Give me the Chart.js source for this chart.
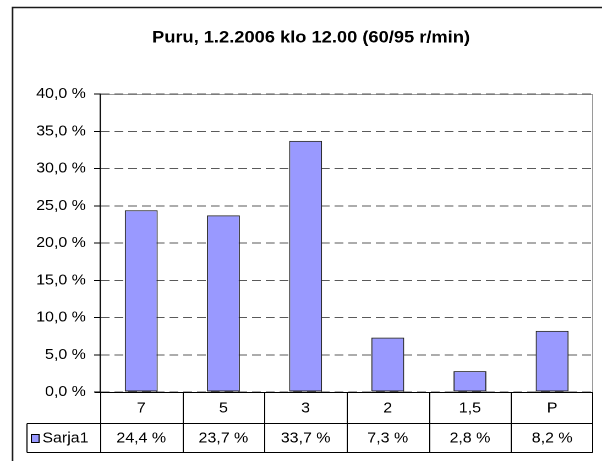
<!DOCTYPE html>
<html>
<head>
<meta charset="utf-8">
<script src="https://cdn.jsdelivr.net/npm/chart.js@4/dist/chart.umd.min.js"></script>
<style>
  html, body { margin: 0; padding: 0; background: #fff; overflow: hidden; }
  /* the chart is laid out on a narrower canvas and widened horizontally */
  #stage { width: 547px; height: 461px; transform: scaleX(1.10055); transform-origin: 0 0; }
</style>
</head>
<body>
<div id="stage"><canvas id="chart" width="547" height="461"></canvas></div>
<script>
// ---- data ----
const chartTitle = 'Puru, 1.2.2006 klo 12.00 (60/95 r/min)';
const seriesName = 'Sarja1';
const categories = ['7', '5', '3', '2', '1,5', 'P'];
const values = [24.4, 23.7, 33.7, 7.3, 2.8, 8.2];
const yMin = 0;
const yMax = 40;
const yStep = 5;

const FONT = "'Liberation Sans', Arial, Helvetica, sans-serif";
const fmtPct = v => v.toFixed(1).replace('.', ',') + ' %';

// ---- layout (canvas px) ----
const CANVAS_W = 547;
const CANVAS_H = 461;
const AXIS_W = 91;          // width reserved for the value axis
const PLOT_RIGHT = 539;
const PLOT_TOP = 94;
const PLOT_BOTTOM = 392;
const ROW1_BOTTOM = 423;    // category row of the data table
const ROW2_BOTTOM = 452;    // value row of the data table
const TABLE_LEFT = 24.5;    // value row starts under the axis labels
const FRAME_X = 11.4;
const FRAME_Y = 7.5;
const TITLE_X = 282.6;
const TITLE_BASE = 42.5;
const TEXT_SIZE = 14.5;

const frameAndTable = {
  id: 'frameAndTable',
  beforeDraw(chart) {
    const { ctx, chartArea: a } = chart;
    ctx.save();
    ctx.fillStyle = '#fff';
    ctx.fillRect(0, 0, chart.width, chart.height);

    // outer chart frame
    ctx.strokeStyle = '#1a1a1a';
    ctx.lineWidth = 1.5;
    ctx.beginPath();
    ctx.moveTo(FRAME_X, chart.height + 2);
    ctx.lineTo(FRAME_X, FRAME_Y);
    ctx.lineTo(chart.width + 2, FRAME_Y);
    ctx.stroke();

    // plot area outline
    ctx.strokeStyle = '#9a9a9a';
    ctx.lineWidth = 1;
    ctx.strokeRect(Math.round(a.left) + 0.5, Math.round(a.top) + 0.5,
                   Math.round(a.right - a.left) - 1, Math.round(a.bottom - a.top));

    // title
    ctx.fillStyle = '#000';
    ctx.font = 'bold 17px ' + FONT;
    ctx.textAlign = 'center';
    ctx.textBaseline = 'alphabetic';
    ctx.translate(TITLE_X, TITLE_BASE);
    ctx.scale(0.977, 1);
    ctx.fillText(chartTitle, 0, 0);
    ctx.restore();
  },
  afterDraw(chart) {
    const { ctx, chartArea: a } = chart;
    const x = chart.scales.x;
    const n = categories.length;
    const top = Math.round(a.bottom) + 0.5;
    const r1 = ROW1_BOTTOM + 0.5;
    const r2 = ROW2_BOTTOM + 0.5;
    const left = Math.round(a.left) + 0.5;
    const right = Math.round(a.right) - 0.5;

    ctx.save();
    ctx.strokeStyle = '#000';
    ctx.lineWidth = 1;
    ctx.beginPath();
    // horizontal rules
    ctx.moveTo(left - 5.5, top); ctx.lineTo(right, top);
    ctx.moveTo(TABLE_LEFT, r1); ctx.lineTo(right, r1);
    ctx.moveTo(TABLE_LEFT, r2); ctx.lineTo(right, r2);
    // left edge of value row
    ctx.moveTo(TABLE_LEFT, r1); ctx.lineTo(TABLE_LEFT, r2);
    // column boundaries
    for (let i = 0; i <= n; i++) {
      let bx;
      if (i === 0) bx = left;
      else if (i === n) bx = right;
      else bx = Math.round((x.getPixelForValue(i - 1) + x.getPixelForValue(i)) / 2) + 0.5;
      ctx.moveTo(bx, top); ctx.lineTo(bx, r2);
    }
    ctx.stroke();

    // cell text
    ctx.fillStyle = '#000';
    ctx.font = TEXT_SIZE + 'px ' + FONT;
    ctx.textAlign = 'center';
    ctx.textBaseline = 'middle';
    for (let i = 0; i < n; i++) {
      const cx = x.getPixelForValue(i);
      ctx.fillText(categories[i], cx, (top + r1) / 2 + 0.5);
      ctx.fillText(fmtPct(values[i]), cx, (r1 + r2) / 2 + 0.5);
    }

    // series key + name
    const ky = (r1 + r2) / 2;
    ctx.fillStyle = '#9999ff';
    ctx.fillRect(28.5, ky - 3.5, 7, 8);
    ctx.strokeStyle = '#000';
    ctx.strokeRect(28.5, ky - 3.5, 7, 8);
    ctx.fillStyle = '#000';
    ctx.textAlign = 'left';
    ctx.fillText(seriesName, 38.5, ky + 0.5);
    ctx.restore();
  }
};

new Chart(document.getElementById('chart'), {
  type: 'bar',
  data: {
    labels: categories,
    datasets: [{
      label: seriesName,
      data: values,
      backgroundColor: '#9999ff',
      borderColor: '#222',
      borderWidth: 1,
      borderSkipped: false,
      barPercentage: 0.4,
      categoryPercentage: 1
    }]
  },
  options: {
    responsive: false,
    animation: false,
    devicePixelRatio: 2,
    layout: { padding: { left: 0, right: CANVAS_W - PLOT_RIGHT, top: PLOT_TOP, bottom: CANVAS_H - PLOT_BOTTOM } },
    plugins: { legend: { display: false }, tooltip: { enabled: false }, title: { display: false } },
    scales: {
      x: { display: false, offset: true },
      y: {
        min: yMin,
        max: yMax,
        afterFit(scale) { scale.width = AXIS_W; },
        ticks: {
          stepSize: yStep,
          padding: 7.5,
          color: '#000',
          font: { family: FONT, size: TEXT_SIZE },
          callback: v => fmtPct(v)
        },
        grid: {
          color: '#5a5a5a',
          lineWidth: 1,
          tickLength: 5.5,
          tickColor: '#000',
          tickWidth: 1
        },
        border: { display: true, color: '#000', width: 1, dash: [8, 4.5] }
      }
    }
  },
  plugins: [frameAndTable]
});
</script>
</body>
</html>
